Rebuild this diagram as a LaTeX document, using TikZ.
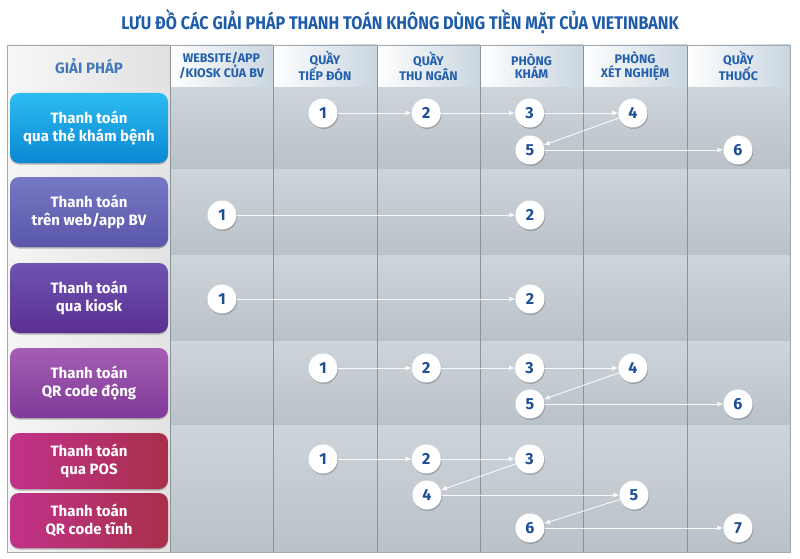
\documentclass[tikz,border=0pt]{standalone}
\usepackage{fontspec}
\setmainfont{Fira Sans}
\newfontfamily\titlefont[FakeStretch=0.88]{Fira Sans}
\usepackage{xcolor}
\usetikzlibrary{positioning, arrows.meta, shadows}

\definecolor{titleblue}{HTML}{1D5CA8}
\definecolor{headblue}{HTML}{2260AD}
\definecolor{numblue}{HTML}{1B4E97}
\definecolor{gridgray}{HTML}{8A939A}
\definecolor{bodytop}{HTML}{CDD4DA}
\definecolor{bodybot}{HTML}{BAC2C9}
\definecolor{headright}{HTML}{C9D5DF}

\begin{document}
\begin{tikzpicture}[x=1pt, y=-1pt, node distance=103.3pt,
    num/.style={circle, fill=white, minimum size=29pt, inner sep=0pt, text=numblue,
        font=\bfseries\fontsize{16}{16}\selectfont,
        drop shadow={shadow xshift=.8pt, shadow yshift=-1.5pt, opacity=.3, fill=black!70}},
    card/.style={rounded corners=9pt, minimum width=158pt, text=white, align=center,
        font=\bfseries\fontsize{15}{18.5}\selectfont,
        drop shadow={shadow xshift=0pt, shadow yshift=-1.5pt, opacity=.25, fill=black}},
    head/.style={text=headblue, align=center, font=\bfseries\fontsize{12.5}{13.5}\selectfont},
    band/.style={top color=bodytop, bottom color=bodybot},
    hcell/.style={left color=white, right color=headright},
    flow/.style={draw=white, opacity=.9, line width=.9pt, -{Latex[length=6pt, width=5pt]}},
    every edge/.style={flow}]

    \useasboundingbox[fill=white] (0,0) rectangle (800,559);

    % title
    \node[text=titleblue, font=\titlefont\bfseries\fontsize{18.3}{19}\selectfont] (title) at (400,22)
        {LƯU ĐỒ CÁC GIẢI PHÁP THANH TOÁN KHÔNG DÙNG TIỀN MẶT CỦA VIETINBANK};

    % table
    \fill[left color=black!4, right color=black!11] (7,45) rectangle (170,552);
    \fill[band] (170,87) rectangle (790,169);
    \fill[band] (170,169) rectangle (790,255);
    \fill[band] (170,255) rectangle (790,341);
    \fill[band] (170,341) rectangle (790,425);
    \fill[band] (170,425) rectangle (790,552);
    \fill[left color=black!3, right color=black!12] (7,45) rectangle (170,87);
    \fill[hcell] (170,45) rectangle (273,87);
    \fill[hcell] (273,45) rectangle (377,87);
    \fill[hcell] (377,45) rectangle (480,87);
    \fill[hcell] (480,45) rectangle (583,87);
    \fill[hcell] (583,45) rectangle (687,87);
    \fill[hcell] (687,45) rectangle (790,87);
    \draw[gridgray, line width=.6pt] (170,45) -- (170,552) (273,45) -- (273,552)
        (377,45) -- (377,552) (480,45) -- (480,552) (583,45) -- (583,552) (687,45) -- (687,552);
    \draw[gridgray!80, line width=.8pt] (7,45) rectangle (790,552);

    % header
    \node[text=headblue!85!white, font=\bfseries\fontsize{15}{16}\selectfont] (hSol) at (89,66) {GIẢI PHÁP};
    \node[head] (hWeb) at (221.5,66) {WEBSITE/APP\\/KIOSK CỦA BV};
    \node[head] (hRec) at (325,66) {QUẦY\\TIẾP ĐÓN};
    \node[head] (hCash) at (428.5,66) {QUẦY\\THU NGÂN};
    \node[head] (hExam) at (531.5,66) {PHÒNG\\KHÁM};
    \node[head] (hLab) at (635,66) {PHÒNG\\XÉT NGHIỆM};
    \node[head] (hDrug) at (738.5,66) {QUẦY\\THUỐC};

    % payment cards
    \node[card, minimum height=70pt, top color={rgb,255:red,44;green,188;blue,240}, bottom color={rgb,255:red,10;green,135;blue,210}] (pCard) at (89,128) {Thanh toán\\qua thẻ khám bệnh};
    \node[card, minimum height=70pt, top color={rgb,255:red,117;green,121;blue,196}, bottom color={rgb,255:red,90;green,86;blue,168}] (pWeb) at (89,212) {Thanh toán\\trên web/app BV};
    \node[card, minimum height=70pt, top color={rgb,255:red,110;green,84;blue,176}, bottom color={rgb,255:red,91;green,47;blue,146}] (pKiosk) at (89,298) {Thanh toán\\qua kiosk};
    \node[card, minimum height=70pt, top color={rgb,255:red,164;green,93;blue,178}, bottom color={rgb,255:red,127;green,58;blue,152}] (pQRd) at (89,383) {Thanh toán\\QR code động};
    \node[card, minimum height=56pt, left color={rgb,255:red,194;green,49;blue,138}, right color={rgb,255:red,168;green,48;blue,74}] (pPOS) at (89,461) {Thanh toán\\qua POS};
    \node[card, minimum height=55pt, left color={rgb,255:red,194;green,49;blue,138}, right color={rgb,255:red,168;green,48;blue,74}] (pQRs) at (89,520.5) {Thanh toán\\QR code tĩnh};

    % card payment
    \node[num] (a1) at (323,113) {1};
    \node[num] (a2) [right of=a1] {2};
    \node[num] (a3) [right of=a2] {3};
    \node[num] (a4) [right of=a3] {4};
    \node[num] (a5) at (530,150) {5};
    \node[num] (a6) at (738,150) {6};

    % web/app and kiosk
    \node[num] (b1) at (222,215) {1};
    \node[num] (b2) at (530,215) {2};
    \node[num] (c1) at (222,299) {1};
    \node[num] (c2) at (530,299) {2};

    % dynamic QR
    \node[num] (d1) at (323,368) {1};
    \node[num] (d2) [right of=d1] {2};
    \node[num] (d3) [right of=d2] {3};
    \node[num] (d4) [right of=d3] {4};
    \node[num] (d5) at (530,404) {5};
    \node[num] (d6) at (738,404) {6};

    % POS and static QR
    \node[num] (e1) at (323,459) {1};
    \node[num] (e2) [right of=e1] {2};
    \node[num] (e3) [right of=e2] {3};
    \node[num] (e4) at (427,495) {4};
    \node[num] (e5) at (634,495) {5};
    \node[num] (e6) at (530,528) {6};
    \node[num] (e7) at (738,528) {7};

    \path
        (a1) edge (a2) (a2) edge (a3) (a3) edge (a4) (a4) edge (a5) (a5) edge (a6)
        (b1) edge (b2)
        (c1) edge (c2)
        (d1) edge (d2) (d2) edge (d3) (d3) edge (d4) (d4) edge (d5) (d5) edge (d6)
        (e1) edge (e2) (e2) edge (e3) (e3) edge (e4) (e4) edge (e5) (e5) edge (e6) (e6) edge (e7);
\end{tikzpicture}
\end{document}
